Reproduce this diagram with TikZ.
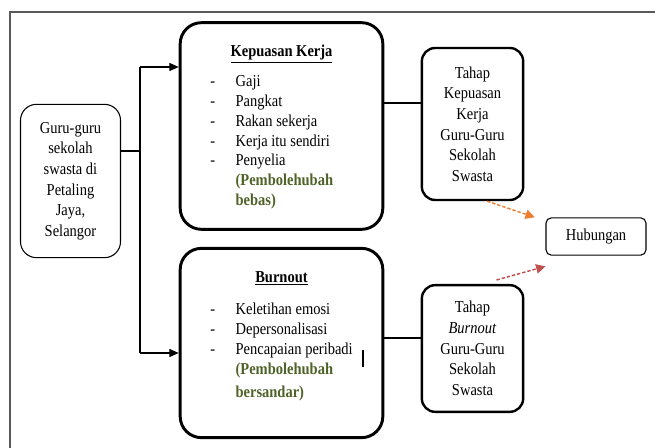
\documentclass[tikz,border=0pt]{standalone}
\usepackage{fontspec}
\setmainfont{Liberation Serif}[FakeStretch=0.87]
\usetikzlibrary{arrows.meta,positioning,calc}
\definecolor{kjgreen}{HTML}{4F6228}
\definecolor{kjorange}{HTML}{ED7D31}
\definecolor{kjred}{HTML}{C0504D}
\definecolor{kjframe}{HTML}{595959}

\begin{document}
\begin{tikzpicture}[x=0.75pt,y=-0.75pt,
  font=\fontsize{12.5}{15.5}\selectfont,
  bigbox/.style={draw,line width=2.2pt,rounded corners=16pt,minimum width=152pt},
  tahapbox/.style={draw,line width=1.8pt,rounded corners=10pt,minimum width=76pt,
                   align=center,inner sep=2pt},
  thinbox/.style={draw,line width=0.8pt,align=center,inner sep=2pt},
  listtext/.style={inner sep=0pt,font=\fontsize{12.5}{14.8}\selectfont},
  link/.style={line width=0.8pt},
  dasharrow/.style={line width=1.1pt,dash pattern=on 2.5pt off 1.5pt,
                    -{Triangle[length=7pt,width=7pt]}}]

  \useasboundingbox (0,0) rectangle (655,448);

  % ---- Outer frame ---------------------------------------------
  \draw[kjframe,line width=0.9pt] (10,448) -- (10,12) -- (655,12);

  % ---- Boxes ---------------------------------------------------
  \node[thinbox,rounded corners=12pt,minimum width=75pt,minimum height=115pt]
    (guru) at (70.5,181) {Guru-guru\\sekolah\\swasta di\\Petaling\\Jaya,\\Selangor};
  \node[bigbox,minimum height=155pt] (kepuasan) at (281.5,126) {};
  \node[bigbox,minimum height=142pt] (burnout) at (281.5,343) {};
  \node[tahapbox,minimum height=114pt] (tahapK) at (472.5,124)
    {Tahap\\Kepuasan\\Kerja\\Guru-Guru\\Sekolah\\Swasta};
  \node[tahapbox,minimum height=95pt] (tahapB) at (472.5,348.5)
    {Tahap\\\textit{Burnout}\\Guru-Guru\\Sekolah\\Swasta};
  \node[thinbox,rounded corners=4pt,minimum width=75pt,minimum height=28pt]
    (hubungan) at (596,236.5) {Hubungan};

  % ---- Box contents --------------------------------------------
  \node[anchor=base] (kjtitle) at (281.5,57) {\underline{\textbf{Kepuasan Kerja}}};
  \node[listtext,anchor=base west] (kjitems) at (210,87)
    {\begin{tabular}[t]{@{}p{19pt}@{}l@{}}
       - & Gaji\\
       - & Pangkat\\
       - & Rakan sekerja\\
       - & Kerja itu sendiri\\
       - & Penyelia\\
         & \textcolor{kjgreen}{\textbf{(Pembolehubah}}\\
         & \textcolor{kjgreen}{\textbf{bebas)}}
     \end{tabular}};

  \node[anchor=base] (botitle) at (281.5,282) {\underline{\textbf{Burnout}}};
  \node[listtext,anchor=base west] (boitems) at (210,315)
    {\begin{tabular}[t]{@{}p{19pt}@{}l@{}}
       - & Keletihan emosi\\
       - & Depersonalisasi\\
       - & Pencapaian peribadi\\
         & \textcolor{kjgreen}{\textbf{(Pembolehubah}}\\[3pt]
         & \textcolor{kjgreen}{\textbf{bersandar)}}
     \end{tabular}};
  % stray cursor mark
  \draw[line width=0.8pt] (363,350) -- (363,367);

  % ---- Connectors ----------------------------------------------
  \coordinate (split) at (140,151);
  \coordinate (jtop) at (140,67);
  \coordinate (jbot) at (140,353);
  \draw[link] (guru.east |- split) -- (split);
  \draw[link] (jtop) -- (jbot);
  \draw[link,-{Triangle[length=7pt,width=6pt]}] (jtop) -- (jtop -| kepuasan.west);
  \draw[link,-{Triangle[length=7pt,width=6pt]}] (jbot) -- (jbot -| burnout.west);

  \coordinate (linkK) at (400,103);
  \coordinate (linkB) at (400,338);
  \draw[link] (linkK -| kepuasan.east) -- (linkK -| tahapK.west);
  \draw[link] (linkB -| burnout.east) -- (linkB -| tahapB.west);

  % dashed arrows to Hubungan
  \draw[dasharrow,kjorange] ([xshift=11pt]tahapK.south) -- ([xshift=-8pt]hubungan.north west);
  \draw[dasharrow,kjred] ([xshift=18pt,yshift=3pt]tahapB.north) -- ([yshift=-8pt]hubungan.south west);

\end{tikzpicture}
\end{document}
